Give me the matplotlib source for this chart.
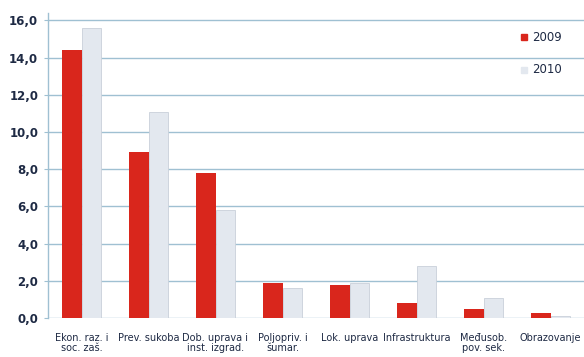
import numpy as np
import matplotlib.pyplot as plt

categories = ['Ekon. raz. i\nsoc. zaš.', 'Prev. sukoba', 'Dob. uprava i\ninst. izgrad.',
              'Poljopriv. i\nšumar.', 'Lok. uprava', 'Infrastruktura',
              'Međusob.\npov. sek.', 'Obrazovanje']
vals_2009 = [14.4, 8.9, 7.8, 1.9, 1.8, 0.8, 0.5, 0.25]
vals_2010 = [15.6, 11.1, 5.8, 1.6, 1.9, 2.8, 1.1, 0.1]
yticks = [0, 2, 4, 6, 8, 10, 12, 14, 16]

red = '#d9261c'
grey = '#e3e8ef'
grid_c = '#9fc0d2'
text_c = '#1e2a44'

fig = plt.figure(figsize=(5.84, 3.57), dpi=100)
ax = fig.add_axes([48/584, 1-318/357, 1-48/584, 305/357])

x = np.arange(len(categories))
w = 0.29
ax.bar(x - w/2, vals_2009, w, color=red, zorder=3, label='2009')
ax.bar(x + w/2 + 0.005, vals_2010, w, color=grey, edgecolor='#c9d0da', linewidth=0.6, zorder=3, label='2010')

ax.set_xlim(-0.5, len(categories) - 0.5)
ax.set_ylim(0, 16.4)
ax.set_yticks(yticks)
ax.set_yticklabels([f'{v:.1f}'.replace('.', ',') for v in yticks], fontsize=8.5,
                   color=text_c, fontweight='bold')
ax.set_xticks(x)
ax.set_xticklabels(categories, fontsize=7, color=text_c, linespacing=0.95)
ax.tick_params(axis='x', length=0, pad=11)
ax.tick_params(axis='y', length=3, color=grid_c, pad=4)

ax.yaxis.grid(True, color=grid_c, linewidth=1.0, zorder=0)
for s in ['top', 'right', 'bottom']:
    ax.spines[s].set_visible(False)
ax.spines['left'].set_color(grid_c)
ax.spines['left'].set_linewidth(1.0)

# legend
ax.plot([6.6], [15.1], marker='s', ms=4, color=red, linestyle='none', zorder=5)
ax.text(6.72, 15.1, '2009', fontsize=8.5, color=text_c, va='center', zorder=5,
        bbox=dict(facecolor='white', edgecolor='none', pad=1))
ax.plot([6.6], [13.35], marker='s', ms=4, color=grey, linestyle='none', zorder=5)
ax.text(6.72, 13.35, '2010', fontsize=8.5, color=text_c, va='center', zorder=5,
        bbox=dict(facecolor='white', edgecolor='none', pad=1))

fig.savefig('out.png', dpi=100)
